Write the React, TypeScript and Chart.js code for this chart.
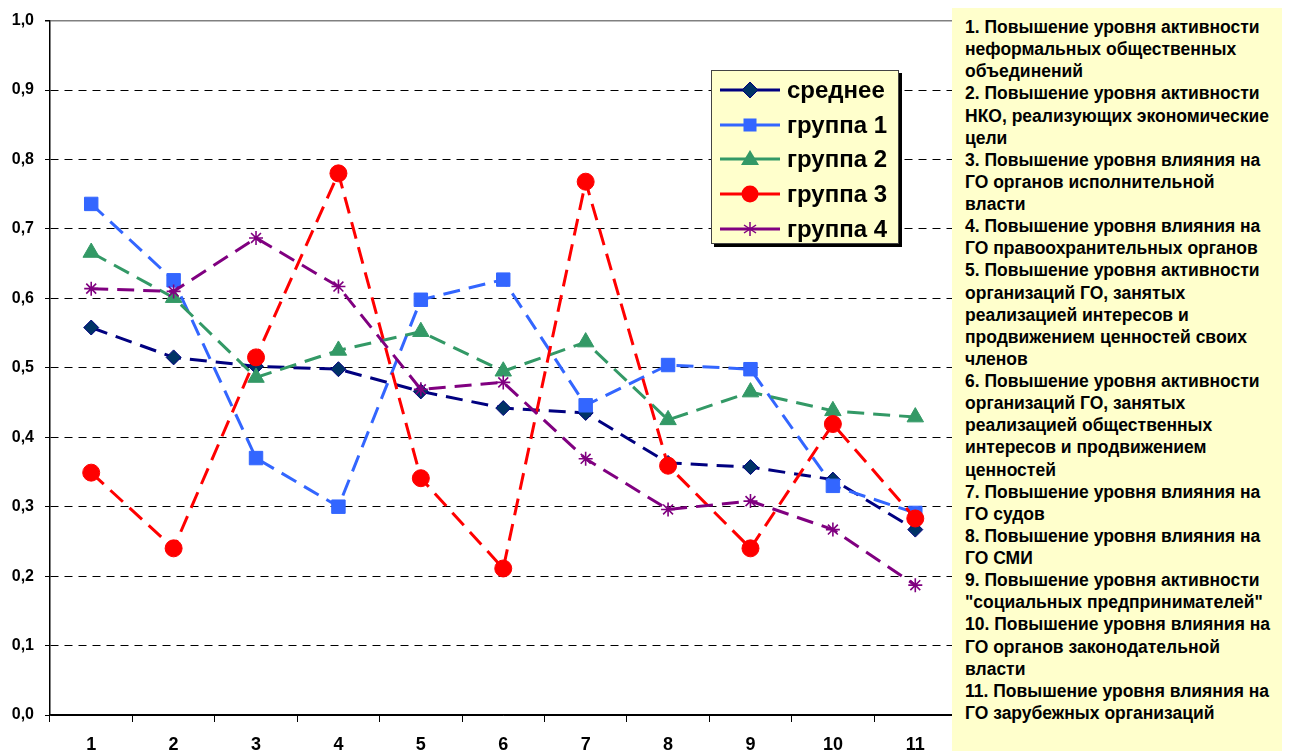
import React, { useEffect, useRef } from "react";
import { Chart, registerables } from "chart.js";

Chart.register(...registerables);

const categories = ["1", "2", "3", "4", "5", "6", "7", "8", "9", "10", "11"];

const seriesNames = ["среднее", "группа 1", "группа 2", "группа 3", "группа 4"];

const average = [0.558, 0.515, 0.502, 0.498, 0.466, 0.442, 0.435, 0.363, 0.357, 0.339, 0.267];
const group1 = [0.736, 0.626, 0.370, 0.300, 0.598, 0.627, 0.446, 0.504, 0.498, 0.330, 0.291];
const group2 = [0.666, 0.601, 0.486, 0.525, 0.552, 0.495, 0.537, 0.425, 0.465, 0.438, 0.429];
const group3 = [0.349, 0.240, 0.515, 0.780, 0.341, 0.211, 0.768, 0.359, 0.240, 0.419, 0.283];
const group4 = [0.614, 0.610, 0.687, 0.617, 0.469, 0.479, 0.369, 0.296, 0.308, 0.267, 0.187];

const seriesValues = [average, group1, group2, group3, group4];

const lineColors = ["#000080", "#3366FF", "#339966", "#FF0000", "#800080"];
const fillColors = ["#003366", "#3366FF", "#339966", "#FF0000", "#800080"];
const pointStyles = ["rectRot", "rect", "triangle", "circle", "star"];
const pointRadii = [7.5, 9.5, 9.5, 8.5, 7];

const descriptions = [
  "1. Повышение уровня активности\nнеформальных общественных\nобъединений",
  "2. Повышение уровня активности\nНКО, реализующих экономические\nцели",
  "3. Повышение уровня влияния на\nГО органов исполнительной\nвласти",
  "4. Повышение уровня влияния на\nГО правоохранительных органов",
  "5. Повышение уровня активности\nорганизаций ГО, занятых\nреализацией интересов и\nпродвижением ценностей своих\nчленов",
  "6. Повышение уровня активности\nорганизаций ГО, занятых\nреализацией общественных\nинтересов и продвижением\nценностей",
  "7. Повышение уровня влияния на\nГО судов",
  "8. Повышение уровня влияния на\nГО СМИ",
  "9. Повышение уровня активности\n\"социальных предпринимателей\"",
  "10. Повышение уровня влияния на\nГО органов законодательной\nвласти",
  "11. Повышение уровня влияния на\nГО зарубежных организаций",
];

const FONT = "'Liberation Sans', Arial, Helvetica, sans-serif";

function LegendIcon({ i }: { i: number }) {
  const c = lineColors[i];
  const f = fillColors[i];
  const cx = 30;
  const cy = 10;
  let marker: React.ReactNode = null;
  if (i === 0) {
    marker = <polygon points={`${cx},${cy - 8} ${cx + 8},${cy} ${cx},${cy + 8} ${cx - 8},${cy}`} fill={f} stroke={c} strokeWidth={1} />;
  } else if (i === 1) {
    marker = <rect x={cx - 6.5} y={cy - 6.5} width={13} height={13} fill={f} />;
  } else if (i === 2) {
    marker = <polygon points={`${cx},${cy - 9} ${cx + 9},${cy + 6} ${cx - 9},${cy + 6}`} fill={f} />;
  } else if (i === 3) {
    marker = <circle cx={cx} cy={cy} r={8.5} fill={f} />;
  } else {
    marker = (
      <g stroke={c} strokeWidth={1.5}>
        <line x1={cx} y1={cy - 7} x2={cx} y2={cy + 7} />
        <line x1={cx - 6} y1={cy - 4} x2={cx + 6} y2={cy + 4} />
        <line x1={cx - 6} y1={cy + 4} x2={cx + 6} y2={cy - 4} />
      </g>
    );
  }
  return (
    <svg width={60} height={20} style={{ display: "block" }}>
      <line x1={0} y1={cy} x2={60} y2={cy} stroke={c} strokeWidth={3} />
      {marker}
    </svg>
  );
}

export default function App() {
  const canvasRef = useRef<HTMLCanvasElement | null>(null);

  useEffect(() => {
    const canvas = canvasRef.current;
    if (!canvas) return;
    const datasets = seriesValues.map((vals, i) => ({
      label: seriesNames[i],
      data: vals,
      borderColor: lineColors[i],
      backgroundColor: fillColors[i],
      borderWidth: 3,
      borderDash: [17, 9],
      pointStyle: pointStyles[i] as any,
      pointRadius: pointRadii[i],
      pointBackgroundColor: fillColors[i],
      pointBorderColor: lineColors[i],
      pointBorderWidth: i === 4 ? 1.6 : 1,
      tension: 0,
      fill: false,
      order: 4 - i,
    }));
    const chart = new Chart(canvas, {
      type: "line",
      data: { labels: categories, datasets },
      options: {
        responsive: false,
        animation: false,
        layout: { padding: { top: 18, right: 4, left: 0, bottom: 0 } },
        plugins: { legend: { display: false }, tooltip: { enabled: false } },
        scales: {
          x: {
            type: "category",
            offset: true,
            grid: {
              offset: true,
              drawOnChartArea: false,
              drawTicks: true,
              tickLength: 7,
              tickColor: "#000",
              tickWidth: 1,
            },
            border: { display: true, color: "#000", width: 1.5 },
            ticks: {
              color: "#000",
              font: { family: FONT, size: 18, weight: "bold" },
              padding: 12,
              maxRotation: 0,
              autoSkip: false,
            },
            afterFit: (s: any) => {
              s.height = 36;
            },
          },
          y: {
            min: 0,
            max: 1,
            grid: {
              color: (ctx: any) => (ctx.tick && ctx.tick.value === 1 ? "#808080" : "#000"),
              lineWidth: (ctx: any) => (ctx.tick && ctx.tick.value === 1 ? 1.5 : 1),
              drawTicks: true,
              tickLength: 5,
              tickColor: "#000",
            },
            border: {
              display: true,
              color: "#000",
              width: 1.5,
              dash: (ctx: any) => (ctx.tick && ctx.tick.value !== 1 && ctx.tick.value !== 0 ? [8, 6] : []),
            },
            ticks: {
              stepSize: 0.1,
              color: "#000",
              font: { family: FONT, size: 16, weight: "bold" },
              padding: 11,
              callback: (v: any) => Number(v).toFixed(1).replace(".", ","),
            },
            afterFit: (s: any) => {
              s.width = 50;
            },
          },
        },
      },
    });
    return () => chart.destroy();
  }, []);

  return (
    <div style={{ position: "absolute", left: 0, top: 0, width: 1293, height: 751, background: "#fff", overflow: "hidden", fontFamily: FONT }}>
      <canvas ref={canvasRef} width={967} height={751} style={{ position: "absolute", left: 0, top: 0 }} />
      <div
        style={{
          position: "absolute",
          left: 711,
          top: 70,
          width: 188,
          height: 174,
          background: "#FFFFCC",
          border: "1px solid #444",
          boxShadow: "3px 3px 0 #000",
          boxSizing: "border-box",
          paddingTop: 2,
        }}
      >
        {seriesNames.map((n, i) => (
          <div key={n} style={{ display: "flex", alignItems: "center", height: 34.6 }}>
            <div style={{ marginLeft: 8, width: 60 }}>
              <LegendIcon i={i} />
            </div>
            <div style={{ marginLeft: 7, fontWeight: "bold", fontSize: 24, lineHeight: "26px", color: "#000", whiteSpace: "nowrap" }}>{n}</div>
          </div>
        ))}
      </div>
      <div
        style={{
          position: "absolute",
          left: 952,
          top: 8,
          width: 330,
          height: 743,
          background: "#FFFFCC",
          boxSizing: "border-box",
          paddingLeft: 13,
          paddingTop: 8,
          fontWeight: "bold",
          fontSize: 17.5,
          lineHeight: "22.13px",
          color: "#000",
          whiteSpace: "pre-line",
        }}
      >
        {descriptions.map((d, i) => (
          <div key={i}>{d}</div>
        ))}
      </div>
    </div>
  );
}
